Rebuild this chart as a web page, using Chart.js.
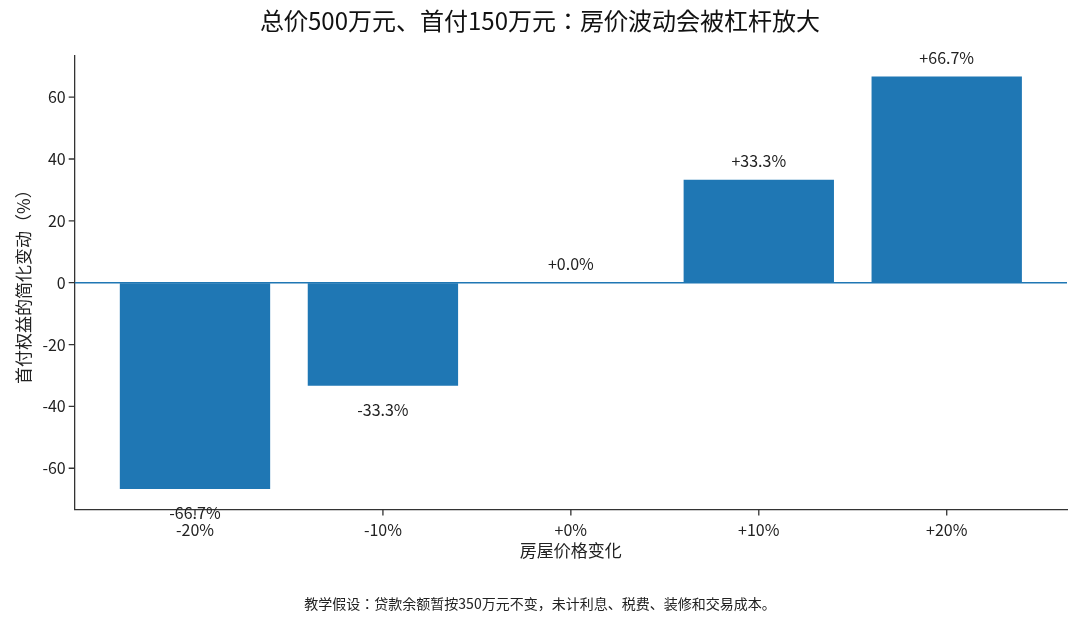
<!DOCTYPE html>
<html>
<head>
<meta charset="utf-8">
<script src="https://cdn.jsdelivr.net/npm/chart.js@4/dist/chart.umd.min.js"></script>
<style>
  html, body { margin: 0; padding: 0; background: #fff; }
  #wrap { width: 1080px; height: 623px; }
</style>
</head>
<body>
<div id="wrap"><canvas id="leverChart"></canvas></div>
<script>
// Price change scenarios and equity change (%)
const categories = ['-20%', '-10%', '+0%', '+10%', '+20%'];
const equityChange = [-66.7, -33.3, 0.0, 33.3, 66.7];
const valueLabels = ['-66.7%', '-33.3%', '+0.0%', '+33.3%', '+66.7%'];
const yTicks = [-60, -40, -20, 0, 20, 40, 60];

const FONT = '"Noto Sans CJK JP", "Noto Sans CJK SC", "Noto Sans", sans-serif';
const BLUE = '#1f77b4';

// zero reference line + value labels above/below each bar
const barLabels = {
    id: 'barLabels',
    afterDatasetsDraw(chart) {
        const ctx = chart.ctx;
        const x = chart.scales.x;
        const y = chart.scales.y;
        const area = chart.chartArea;
        const y0 = y.getPixelForValue(0);

        ctx.save();
        ctx.strokeStyle = BLUE;
        ctx.lineWidth = 1.5;
        ctx.beginPath();
        ctx.moveTo(area.left, y0);
        ctx.lineTo(area.right, y0);
        ctx.stroke();

        ctx.fillStyle = '#222';
        ctx.font = '16px ' + FONT;
        ctx.textAlign = 'center';
        ctx.textBaseline = 'middle';
        equityChange.forEach((v, i) => {
            const px = x.getPixelForValue(i);
            const py = y.getPixelForValue(v);
            const ty = v >= 0 ? py - 19 : py + 24;
            ctx.fillText(valueLabels[i], px, ty);
        });
        ctx.restore();
    },
    // outward tick marks like the original
    afterDraw(chart) {
        const ctx = chart.ctx;
        const x = chart.scales.x;
        const y = chart.scales.y;
        const area = chart.chartArea;
        ctx.save();
        ctx.strokeStyle = '#333';
        ctx.lineWidth = 1.3;
        ctx.beginPath();
        yTicks.forEach(v => {
            const py = y.getPixelForValue(v);
            ctx.moveTo(area.left - 6, py);
            ctx.lineTo(area.left, py);
        });
        categories.forEach((c, i) => {
            const px = x.getPixelForValue(i);
            ctx.moveTo(px, area.bottom);
            ctx.lineTo(px, area.bottom + 6);
        });
        ctx.stroke();
        ctx.restore();
    }
};

const ctx = document.getElementById('leverChart').getContext('2d');
new Chart(ctx, {
    type: 'bar',
    data: {
        datasets: [{
            data: equityChange.map((v, i) => ({ x: i, y: v })),
            backgroundColor: BLUE,
            borderWidth: 0,
            barPercentage: 0.8,
            categoryPercentage: 1.0
        }]
    },
    options: {
        responsive: true,
        maintainAspectRatio: false,
        animation: false,
        layout: { padding: { left: 13, right: 13, top: 0, bottom: 0 } },
        plugins: {
            legend: { display: false },
            tooltip: { enabled: false },
            title: {
                display: true,
                text: '总价500万元、首付150万元：房价波动会被杠杆放大',
                color: '#111',
                font: { family: FONT, size: 24, weight: 'normal' },
                padding: { top: 6, bottom: 21 }
            },
            subtitle: {
                display: true,
                position: 'bottom',
                text: '教学假设：贷款余额暂按350万元不变，未计利息、税费、装修和交易成本。',
                color: '#222',
                font: { family: FONT, size: 14 },
                padding: { top: 34, bottom: 11 }
            }
        },
        scales: {
            x: {
                type: 'linear',
                min: -0.64,
                max: 4.64,
                offset: false,
                afterBuildTicks(scale) {
                    scale.ticks = categories.map((c, i) => ({ value: i }));
                },
                ticks: {
                    callback: (v) => categories[v],
                    color: '#222',
                    font: { family: FONT, size: 16 },
                    padding: 6,
                    maxRotation: 0
                },
                grid: { offset: false, drawOnChartArea: false, drawTicks: true, tickLength: 5, color: 'rgba(0,0,0,0)' },
                border: { display: true, color: '#333', width: 1.3 },
                title: {
                    display: true,
                    text: '房屋价格变化',
                    color: '#222',
                    font: { family: FONT, size: 17 },
                    padding: { top: -5, bottom: 0 }
                }
            },
            y: {
                min: -73.37,
                max: 73.37,
                afterBuildTicks(scale) {
                    scale.ticks = yTicks.map(v => ({ value: v }));
                },
                ticks: {
                    color: '#222',
                    font: { family: FONT, size: 16 },
                    padding: 4
                },
                grid: { offset: false, drawOnChartArea: false, drawTicks: true, tickLength: 5, color: 'rgba(0,0,0,0)' },
                border: { display: true, color: '#333', width: 1.3 },
                title: {
                    display: true,
                    text: '首付权益的简化变动（%）',
                    color: '#222',
                    font: { family: FONT, size: 17 },
                    padding: { top: 0, bottom: 5 }
                }
            }
        }
    },
    plugins: [barLabels]
});
</script>
</body>
</html>
